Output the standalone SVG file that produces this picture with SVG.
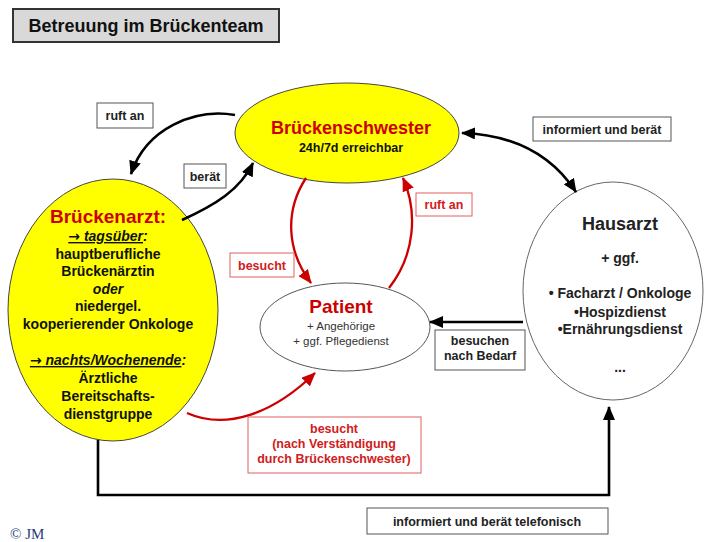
<svg xmlns="http://www.w3.org/2000/svg" width="704" height="542" viewBox="0 0 704 542">
<style>
.t{font-family:"Liberation Sans",Arial,sans-serif;font-weight:bold;text-anchor:middle}
.lbl{fill:#fff;stroke:#555;stroke-width:1}
.rlbl{fill:#fff;stroke:#e06060;stroke-width:1}
.lt{font-family:"Liberation Sans",Arial,sans-serif;font-weight:bold;font-size:12.5px;text-anchor:middle;fill:#222}
.rt{font-family:"Liberation Sans",Arial,sans-serif;font-weight:bold;font-size:12.5px;text-anchor:middle;fill:#d02020}
.blk{fill:none;stroke:#000;stroke-width:2.6}
.red{fill:none;stroke:#cc0000;stroke-width:2.3}
.arw{font-family:"DejaVu Sans",sans-serif;font-style:normal}
</style>
<defs>
<marker id="ab" markerUnits="userSpaceOnUse" markerWidth="14" markerHeight="12" refX="13" refY="6" orient="auto-start-reverse" viewBox="0 0 14 12"><path d="M0,0 L14,6 L0,12 z" fill="#000"/></marker>
<marker id="ar" markerUnits="userSpaceOnUse" markerWidth="14" markerHeight="12" refX="13" refY="6" orient="auto" viewBox="0 0 14 12"><path d="M0,0 L14,6 L0,12 z" fill="#cc0000"/></marker>
</defs>
<rect width="704" height="542" fill="#fff"/>
<g id="title">
<rect x="13" y="9" width="266" height="33" fill="#d9d9d9" stroke="#333" stroke-width="2"/>
<text x="146" y="32" class="t" font-size="18" fill="#111">Betreuung im Brückenteam</text>
</g>
<g id="brueckenschwester">
<ellipse cx="347" cy="133" rx="112" ry="50" fill="#ffff00" stroke="#444" stroke-width="1"/>
<text x="351" y="134" class="t" font-size="18" fill="#cc0000">Brückenschwester</text>
<text x="351" y="152" class="t" font-size="12.5" fill="#111">24h/7d erreichbar</text>
</g>
<g id="brueckenarzt">
<ellipse cx="113" cy="310" rx="105" ry="131" fill="#ffff00" stroke="#444" stroke-width="1"/>
<text x="108" y="223" class="t" font-size="19" fill="#cc0000">Brückenarzt:</text>
<g class="t" font-size="14" fill="#111">
<text x="108" y="241" font-style="italic"><tspan text-decoration="underline"><tspan class="arw">→</tspan> tagsüber</tspan>:</text>
<text x="108" y="259">hauptberufliche</text>
<text x="108" y="276">Brückenärztin</text>
<text x="108" y="294" font-style="italic">oder</text>
<text x="108" y="311">niedergel.</text>
<text x="108" y="329">kooperierender Onkologe</text>
<text x="108" y="365" font-style="italic"><tspan text-decoration="underline"><tspan class="arw">→</tspan> nachts/Wochenende</tspan>:</text>
<text x="108" y="383">Ärztliche</text>
<text x="108" y="401">Bereitschafts-</text>
<text x="108" y="419">dienstgruppe</text>
</g>
</g>
<g id="patient">
<ellipse cx="345" cy="327" rx="85" ry="44" fill="#fff" stroke="#555" stroke-width="1"/>
<text x="341" y="313" class="t" font-size="19" fill="#cc0000">Patient</text>
<text x="341" y="330" font-family="Liberation Sans,Arial,sans-serif" font-size="11.5" text-anchor="middle" fill="#333">+ Angehörige</text>
<text x="341" y="345" font-family="Liberation Sans,Arial,sans-serif" font-size="11.5" text-anchor="middle" fill="#333">+ ggf. Pflegedienst</text>
</g>
<g id="hausarzt">
<ellipse cx="613" cy="291" rx="90" ry="109" fill="#fff" stroke="#666" stroke-width="1"/>
<text x="620" y="230" class="t" font-size="18" fill="#222">Hausarzt</text>
<g class="t" font-size="14" fill="#222">
<text x="620" y="263">+ ggf.</text>
<text x="620" y="298">• Facharzt / Onkologe</text>
<text x="620" y="317">•Hospizdienst</text>
<text x="620" y="334">•Ernährungsdienst</text>
<text x="620" y="372">...</text>
</g>
</g>
<g id="connectors">
<path class="blk" d="M235,115 C195,108 146,128 131,174" marker-end="url(#ab)"/>
<path class="blk" d="M182,220 C215,205 240,190 253,163" marker-end="url(#ab)"/>
<path class="blk" d="M462,133 C520,135 555,160 576,192" marker-start="url(#ab)" marker-end="url(#ab)"/>
<path class="blk" d="M523,322 L430,322" marker-end="url(#ab)"/>
<path class="blk" d="M98,440 L98,495 L609,495 L609,407" marker-end="url(#ab)"/>
<path class="red" d="M306,178 C285,210 286,250 311,283" marker-end="url(#ar)"/>
<path class="red" d="M389,288 C415,255 418,212 403,178" marker-end="url(#ar)"/>
<path class="red" d="M187,413 C225,430 272,415 315,373" marker-end="url(#ar)"/>
</g>
<g id="labels">
<rect class="lbl" x="97" y="103" width="56" height="25"/>
<text class="lt" x="125" y="120">ruft an</text>
<rect class="lbl" x="184" y="164" width="42" height="24"/>
<text class="lt" x="205" y="181">berät</text>
<rect class="lbl" x="533" y="117" width="138" height="24"/>
<text class="lt" x="602" y="134">informiert und berät</text>
<rect class="rlbl" x="230" y="253" width="64" height="24"/>
<text class="rt" x="262" y="270">besucht</text>
<rect class="rlbl" x="416" y="193" width="56" height="23"/>
<text class="rt" x="444" y="209">ruft an</text>
<rect class="lbl" x="435" y="330" width="90" height="40"/>
<text class="lt" x="480" y="345">besuchen</text>
<text class="lt" x="480" y="360">nach Bedarf</text>
<rect class="rlbl" x="248" y="417" width="173" height="56"/>
<text class="rt" x="334" y="433">besucht</text>
<text class="rt" x="334" y="448">(nach Verständigung</text>
<text class="rt" x="334" y="463">durch Brückenschwester)</text>
<rect class="lbl" x="367" y="508" width="241" height="26"/>
<text class="lt" x="487" y="526">informiert und berät telefonisch</text>
</g>
<text x="10" y="539" font-family="Liberation Serif,serif" font-size="15" fill="#2a3a7a">© JM</text>
</svg>
